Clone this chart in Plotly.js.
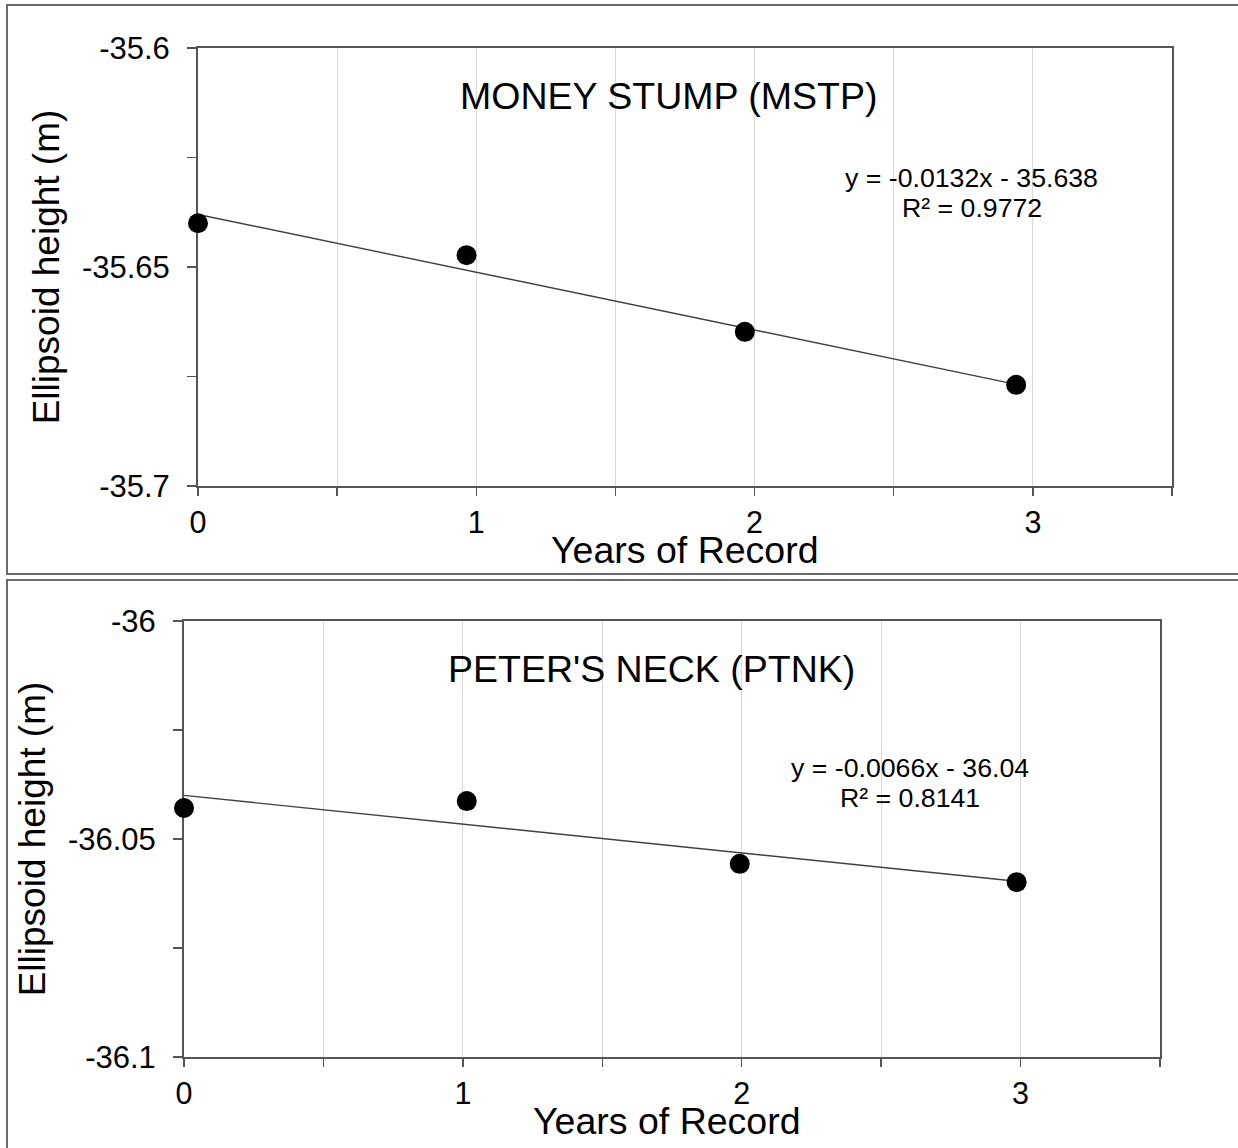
<!DOCTYPE html>
<html><head><meta charset="utf-8">
<script src="https://cdn.plot.ly/plotly-3.0.1.min.js"></script>
<style>html,body{margin:0;padding:0;background:#fff}#chart{width:1238px;height:1148px}</style>
</head><body><div id="chart"></div>
<script>
const W = 1238, H = 1148;

// Panel 1: MONEY STUMP (MSTP)
const mstpTitle = "MONEY STUMP (MSTP)";
const mstpYears = [0, 0.965, 1.965, 2.94];
const mstpHeight = [-35.640, -35.6473, -35.6648, -35.6769];
const mstpTrendYears = [0, 2.94];
const mstpTrendHeight = [-35.638, -35.6768];
const mstpEquation = "y = -0.0132x - 35.638";
const mstpR2 = "R² = 0.9772";
const mstpYTickVals = [-35.7, -35.65, -35.6];
const mstpYTickText = ["-35.7", "-35.65", "-35.6"];

// Panel 2: PETER'S NECK (PTNK)
const ptnkTitle = "PETER'S NECK (PTNK)";
const ptnkYears = [0, 1.014, 1.993, 2.986];
const ptnkHeight = [-36.0429, -36.0413, -36.0557, -36.0599];
const ptnkTrendYears = [0, 2.986];
const ptnkTrendHeight = [-36.04, -36.0597];
const ptnkEquation = "y = -0.0066x - 36.04";
const ptnkR2 = "R² = 0.8141";
const ptnkYTickVals = [-36.1, -36.05, -36.0];
const ptnkYTickText = ["-36.1", "-36.05", "-36"];

const xTickVals = [0, 1, 2, 3];
const xTickText = ["0", "1", "2", "3"];
const xTitle = "Years of Record";
const yTitle = "Ellipsoid height (m)";

const FONT = "Liberation Sans, Arial, sans-serif";
const AX = "#555555";
const GRID = "#d9d9d9";

const px = p => p / W;
const py = p => 1 - p / H;

function xAxis(domain, anchor) {
  return {
    domain: domain, anchor: anchor, range: [0, 3.5],
    tickmode: "array", tickvals: xTickVals, ticktext: xTickText,
    ticks: "outside", ticklen: 8, tickwidth: 1.5, tickcolor: AX,
    showline: true, linecolor: AX, linewidth: 2, mirror: true,
    showgrid: true, gridcolor: GRID, gridwidth: 1.2,
    zeroline: false, layer: "below traces",
    minor: {dtick: 0.5, tick0: 0, ticks: "outside", ticklen: 8, tickwidth: 1.5, tickcolor: AX,
            showgrid: true, gridcolor: GRID, gridwidth: 1.2},
    tickfont: {family: FONT, size: 30.5, color: "#000"},
    fixedrange: true
  };
}
function yAxis(domain, anchor, range, vals, text) {
  return {
    domain: domain, anchor: anchor, range: range,
    tickmode: "array", tickvals: vals, ticktext: text,
    ticks: "outside", ticklen: 9, tickwidth: 1.5, tickcolor: AX,
    showline: true, linecolor: AX, linewidth: 2, mirror: true,
    showgrid: false, zeroline: false, layer: "below traces",
    minor: {dtick: 0.025, tick0: range[0], ticks: "outside", ticklen: 9, tickwidth: 1.5, tickcolor: AX, showgrid: false},
    tickfont: {family: FONT, size: 31, color: "#000"},
    ticklabelstandoff: 11,
    title: {text: yTitle, font: {family: FONT, size: 37, color: "#000"}, standoff: 11},
    fixedrange: true
  };
}

const markerStyle = {size: 20, color: "#000"};
const lineStyle = {color: "#404040", width: 1.4};

const data = [
  {x: mstpTrendYears, y: mstpTrendHeight, mode: "lines", line: lineStyle, xaxis: "x", yaxis: "y", hoverinfo: "skip", cliponaxis: false},
  {x: mstpYears, y: mstpHeight, mode: "markers", marker: markerStyle, xaxis: "x", yaxis: "y", cliponaxis: false},
  {x: ptnkTrendYears, y: ptnkTrendHeight, mode: "lines", line: lineStyle, xaxis: "x2", yaxis: "y2", hoverinfo: "skip", cliponaxis: false},
  {x: ptnkYears, y: ptnkHeight, mode: "markers", marker: markerStyle, xaxis: "x2", yaxis: "y2", cliponaxis: false}
];

const annFont = {family: FONT, size: 26.7, color: "#000"};
const titleFont = {family: FONT, size: 37.5, color: "#000"};

const layout = {
  width: W, height: H,
  margin: {l: 0, r: 0, t: 0, b: 0},
  paper_bgcolor: "#fff", plot_bgcolor: "#fff",
  showlegend: false,
  xaxis: xAxis([px(198), px(1172)], "y"),
  yaxis: yAxis([py(486), py(48)], "x", [-35.7, -35.6], mstpYTickVals, mstpYTickText),
  xaxis2: xAxis([px(184), px(1160)], "y2"),
  yaxis2: yAxis([py(1057), py(621)], "x2", [-36.1, -36.0], ptnkYTickVals, ptnkYTickText),
  annotations: [
    {text: mstpTitle, xref: "paper", yref: "paper", x: px(668), y: py(96), xanchor: "center", yanchor: "middle", showarrow: false, font: titleFont},
    {text: mstpEquation, xref: "x", yref: "y", x: 2.78, y: -35.6297, xanchor: "center", yanchor: "middle", showarrow: false, font: annFont},
    {text: mstpR2, xref: "x", yref: "y", x: 2.78, y: -35.6365, xanchor: "center", yanchor: "middle", showarrow: false, font: annFont},
    {text: xTitle, xref: "x domain", yref: "paper", x: 0.5, y: py(550), xanchor: "center", yanchor: "middle", showarrow: false, font: titleFont},
    {text: ptnkTitle, xref: "paper", yref: "paper", x: px(651), y: py(669), xanchor: "center", yanchor: "middle", showarrow: false, font: titleFont},
    {text: ptnkEquation, xref: "x2", yref: "y2", x: 2.602, y: -36.0337, xanchor: "center", yanchor: "middle", showarrow: false, font: annFont},
    {text: ptnkR2, xref: "x2", yref: "y2", x: 2.602, y: -36.0406, xanchor: "center", yanchor: "middle", showarrow: false, font: annFont},
    {text: xTitle, xref: "x2 domain", yref: "paper", x: 0.495, y: py(1121), xanchor: "center", yanchor: "middle", showarrow: false, font: titleFont}
  ],
  shapes: [
    {type: "rect", xref: "paper", yref: "paper", x0: px(7), x1: px(1250), y0: py(574), y1: py(5), line: {color: "#6a6a6a", width: 2}},
    {type: "rect", xref: "paper", yref: "paper", x0: px(7), x1: px(1250), y0: py(1160), y1: py(580), line: {color: "#6a6a6a", width: 2}}
  ]
};

Plotly.newPlot("chart", data, layout, {staticPlot: true, displayModeBar: false});
</script>
</body></html>
